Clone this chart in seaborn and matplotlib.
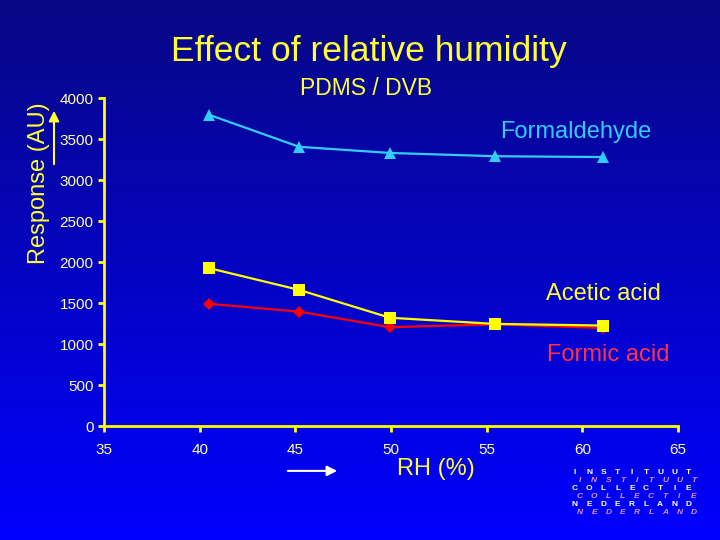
import matplotlib
matplotlib.use("Agg")
import matplotlib.pyplot as plt
import numpy as np
import pandas as pd
import seaborn as sns

# values
rh = [40.5, 45.2, 49.95, 55.45, 61.1]
formaldehyde = [3795, 3405, 3330, 3290, 3280]
acetic_acid = [1925, 1660, 1320, 1245, 1225]
formic_acid = [1490, 1395, 1205, 1240, 1195]

series_names = ["Formaldehyde", "Acetic acid", "Formic acid"]
x_ticks = [35, 40, 45, 50, 55, 60, 65]
y_ticks = [0, 500, 1000, 1500, 2000, 2500, 3000, 3500, 4000]

df = pd.DataFrame({
    "RH": rh * 3,
    "Response": formaldehyde + acetic_acid + formic_acid,
    "compound": [n for n in series_names for _ in rh],
})

sns.set_style("white")
plt.rcParams["font.family"] = ["Liberation Sans", "DejaVu Sans"]

fig = plt.figure(figsize=(7.2, 5.4), dpi=100)

# blue gradient background
bg = fig.add_axes([0, 0, 1, 1], zorder=-10)
grad = np.linspace(0, 1, 256)[:, None]
top = np.array([0.03, 0.03, 0.52])
bottom = np.array([0.0, 0.0, 1.0])
img = top[None, None, :] * (1 - grad[:, :, None]) + bottom[None, None, :] * grad[:, :, None]
bg.imshow(img, aspect="auto", extent=[0, 1, 0, 1], origin="upper")
bg.set_axis_off()

ax = fig.add_axes([0.1444, 0.2111, 0.7972, 0.6074])
ax.set_facecolor("none")

styles = {
    "Formaldehyde": dict(color="#33ccff", marker="^", ms=9, z=3),
    "Formic acid": dict(color="#ff0000", marker="D", ms=6, z=4),
    "Acetic acid": dict(color="#ffff00", marker="s", ms=9, z=5),
}
for name in ["Formaldehyde", "Formic acid", "Acetic acid"]:
    st = styles[name]
    sub = df[df["compound"] == name]
    sns.lineplot(data=sub, x="RH", y="Response", ax=ax, color=st["color"],
                 marker=st["marker"], markersize=st["ms"], markeredgewidth=0,
                 linewidth=1.6, zorder=st["z"], legend=False)

ax.set_xlim(35, 65)
ax.set_ylim(0, 4000)
ax.set_xticks(x_ticks)
ax.set_yticks(y_ticks)
ax.set_xlabel("")
ax.set_ylabel("")
for side in ["top", "right"]:
    ax.spines[side].set_visible(False)
for side in ["left", "bottom"]:
    ax.spines[side].set_color("#ffff00")
    ax.spines[side].set_linewidth(2)
ax.tick_params(axis="both", colors="#ffff00", labelcolor="#ffffb0",
               labelsize=11, length=4, width=2, direction="out", left=True, bottom=True)
ax.tick_params(axis="x", pad=8)

# titles
fig.text(0.513, 0.887, "Effect of relative humidity", color="#ffff33",
         fontsize=25.5, ha="center", va="baseline")
fig.text(0.508, 0.837, "PDMS / DVB", color="#ffff33", fontsize=16.5,
         ha="center", va="center")

# axis labels with arrows
fig.text(0.054, 0.66, "Response (AU)", color="#ffff33", fontsize=17,
         rotation=90, ha="center", va="center")
fig.add_artist(matplotlib.patches.FancyArrowPatch(
    (0.075, 1 - 167 / 540), (0.075, 1 - 108 / 540), transform=fig.transFigure,
    arrowstyle="-|>,head_length=6,head_width=3", color="#ffff33", lw=1.5))
fig.text(0.552, 0.131, "RH (%)", color="#ffff33", fontsize=17,
         ha="left", va="center")
fig.add_artist(matplotlib.patches.FancyArrowPatch(
    (285 / 720, 0.128), (340 / 720, 0.128), transform=fig.transFigure,
    arrowstyle="-|>,head_length=6,head_width=3", color="white", lw=1.5))

# series labels
fig.text(0.694, 0.755, "Formaldehyde", color="#33ccff", fontsize=17, va="center")
fig.text(0.759, 0.455, "Acetic acid", color="#ffff33", fontsize=17, va="center")
fig.text(0.760, 0.343, "Formic acid", color="#ff3344", fontsize=17, va="center")

# institute logo
words = ["INSTITUUT", "COLLECTIE", "NEDERLAND"]
for k, w in enumerate(words):
    y_white = 472 + k * 16
    for i, ch in enumerate(w):
        fig.text((575 + i * 14.2) / 720, 1 - y_white / 540, ch, color="white",
                 fontsize=6, fontweight="bold", ha="center", va="center")
        fig.text((580 + i * 14.2) / 720, 1 - (y_white + 8) / 540, ch, color="#e090d8",
                 fontsize=6, fontweight="bold", style="italic", ha="center", va="center")

fig.savefig("out.png", dpi=100)
